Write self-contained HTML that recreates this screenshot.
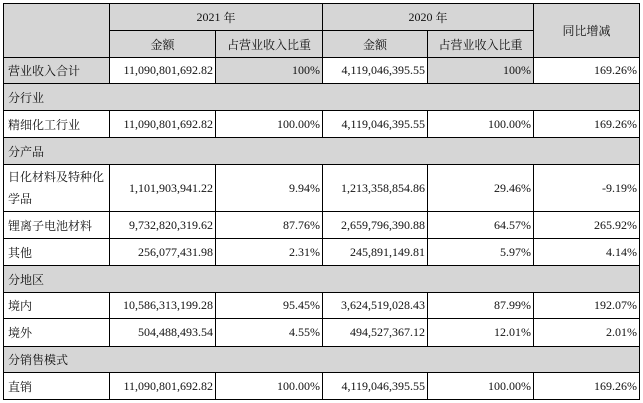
<!DOCTYPE html>
<html><head><meta charset="utf-8"><style>
body{margin:0;width:643px;height:403px;background:#fff;position:relative;overflow:hidden;font-family:"Liberation Serif","Noto Serif CJK SC",serif;color:#111}
.c{position:absolute;box-sizing:border-box;border:1px solid #000;display:flex;align-items:center;font-size:12px;white-space:nowrap}
.g{background:#d6d6d6}
.l{justify-content:flex-start;padding-left:4px}
.r{justify-content:flex-end;padding-right:2px}
.m{justify-content:center}
.k{font-size:12px}
</style></head><body>
<div class="c g" style="left:3px;top:3px;width:107px;height:55px"></div>
<div class="c g m" style="left:109px;top:3px;width:214px;height:28px">2021 <span class="k">&nbsp;年</span></div>
<div class="c g m" style="left:322px;top:3px;width:212px;height:28px">2020 <span class="k">&nbsp;年</span></div>
<div class="c g m k" style="left:533px;top:3px;width:107px;height:55px">同比增减</div>
<div class="c g m k" style="left:109px;top:30px;width:107px;height:28px">金额</div>
<div class="c g m k" style="left:215px;top:30px;width:108px;height:28px">占营业收入比重</div>
<div class="c g m k" style="left:322px;top:30px;width:106px;height:28px">金额</div>
<div class="c g m k" style="left:427px;top:30px;width:107px;height:28px">占营业收入比重</div>

<div class="c g l k" style="left:3px;top:57px;width:107px;height:27px">营业收入合计</div>
<div class="c r" style="left:109px;top:57px;width:107px;height:27px">11,090,801,692.82</div>
<div class="c g r" style="left:215px;top:57px;width:108px;height:27px">100%</div>
<div class="c r" style="left:322px;top:57px;width:106px;height:27px">4,119,046,395.55</div>
<div class="c g r" style="left:427px;top:57px;width:107px;height:27px">100%</div>
<div class="c r" style="left:533px;top:57px;width:107px;height:27px">169.26%</div>

<div class="c g l k" style="left:3px;top:83px;width:637px;height:28px">分行业</div>

<div class="c l k" style="left:3px;top:110px;width:107px;height:28px">精细化工行业</div>
<div class="c r" style="left:109px;top:110px;width:107px;height:28px">11,090,801,692.82</div>
<div class="c r" style="left:215px;top:110px;width:108px;height:28px">100.00%</div>
<div class="c r" style="left:322px;top:110px;width:106px;height:28px">4,119,046,395.55</div>
<div class="c r" style="left:427px;top:110px;width:107px;height:28px">100.00%</div>
<div class="c r" style="left:533px;top:110px;width:107px;height:28px">169.26%</div>

<div class="c g l k" style="left:3px;top:137px;width:637px;height:28px">分产品</div>

<div class="c l k" style="left:3px;top:164px;width:107px;height:48px;white-space:normal;line-height:22px">日化材料及特种化学品</div>
<div class="c r" style="left:109px;top:164px;width:107px;height:48px">1,101,903,941.22</div>
<div class="c r" style="left:215px;top:164px;width:108px;height:48px">9.94%</div>
<div class="c r" style="left:322px;top:164px;width:106px;height:48px">1,213,358,854.86</div>
<div class="c r" style="left:427px;top:164px;width:107px;height:48px">29.46%</div>
<div class="c r" style="left:533px;top:164px;width:107px;height:48px">-9.19%</div>

<div class="c l k" style="left:3px;top:211px;width:107px;height:28px">锂离子电池材料</div>
<div class="c r" style="left:109px;top:211px;width:107px;height:28px">9,732,820,319.62</div>
<div class="c r" style="left:215px;top:211px;width:108px;height:28px">87.76%</div>
<div class="c r" style="left:322px;top:211px;width:106px;height:28px">2,659,796,390.88</div>
<div class="c r" style="left:427px;top:211px;width:107px;height:28px">64.57%</div>
<div class="c r" style="left:533px;top:211px;width:107px;height:28px">265.92%</div>

<div class="c l k" style="left:3px;top:238px;width:107px;height:28px">其他</div>
<div class="c r" style="left:109px;top:238px;width:107px;height:28px">256,077,431.98</div>
<div class="c r" style="left:215px;top:238px;width:108px;height:28px">2.31%</div>
<div class="c r" style="left:322px;top:238px;width:106px;height:28px">245,891,149.81</div>
<div class="c r" style="left:427px;top:238px;width:107px;height:28px">5.97%</div>
<div class="c r" style="left:533px;top:238px;width:107px;height:28px">4.14%</div>

<div class="c g l k" style="left:3px;top:265px;width:637px;height:28px">分地区</div>

<div class="c l k" style="left:3px;top:292px;width:107px;height:27px">境内</div>
<div class="c r" style="left:109px;top:292px;width:107px;height:27px">10,586,313,199.28</div>
<div class="c r" style="left:215px;top:292px;width:108px;height:27px">95.45%</div>
<div class="c r" style="left:322px;top:292px;width:106px;height:27px">3,624,519,028.43</div>
<div class="c r" style="left:427px;top:292px;width:107px;height:27px">87.99%</div>
<div class="c r" style="left:533px;top:292px;width:107px;height:27px">192.07%</div>

<div class="c l k" style="left:3px;top:318px;width:107px;height:29px">境外</div>
<div class="c r" style="left:109px;top:318px;width:107px;height:29px">504,488,493.54</div>
<div class="c r" style="left:215px;top:318px;width:108px;height:29px">4.55%</div>
<div class="c r" style="left:322px;top:318px;width:106px;height:29px">494,527,367.12</div>
<div class="c r" style="left:427px;top:318px;width:107px;height:29px">12.01%</div>
<div class="c r" style="left:533px;top:318px;width:107px;height:29px">2.01%</div>

<div class="c g l k" style="left:3px;top:346px;width:637px;height:27px">分销售模式</div>

<div class="c l k" style="left:3px;top:372px;width:107px;height:28px">直销</div>
<div class="c r" style="left:109px;top:372px;width:107px;height:28px">11,090,801,692.82</div>
<div class="c r" style="left:215px;top:372px;width:108px;height:28px">100.00%</div>
<div class="c r" style="left:322px;top:372px;width:106px;height:28px">4,119,046,395.55</div>
<div class="c r" style="left:427px;top:372px;width:107px;height:28px">100.00%</div>
<div class="c r" style="left:533px;top:372px;width:107px;height:28px">169.26%</div>
</body></html>
